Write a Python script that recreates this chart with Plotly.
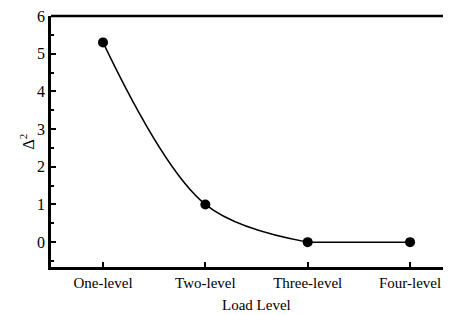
import plotly.graph_objects as go

categories = ["One-level", "Two-level", "Three-level", "Four-level"]
values = [5.3, 1.0, 0.0, 0.0]
y_ticks = [0, 1, 2, 3, 4, 5, 6]

FONT = "Times New Roman, Liberation Serif, serif"
x_idx = list(range(len(categories)))

fig = go.Figure()
# smooth segment through first three points
fig.add_trace(go.Scatter(
    x=x_idx[:3], y=values[:3], mode="lines",
    line=dict(color="black", width=1.5, shape="spline", smoothing=1.0),
    showlegend=False, cliponaxis=False, hoverinfo="skip",
))
# flat tail
fig.add_trace(go.Scatter(
    x=x_idx[2:], y=values[2:], mode="lines",
    line=dict(color="black", width=1.5),
    showlegend=False, cliponaxis=False, hoverinfo="skip",
))
fig.add_trace(go.Scatter(
    x=x_idx, y=values, mode="markers",
    marker=dict(color="black", size=10),
    showlegend=False, cliponaxis=False,
))

# page body adds an 8px offset, so the figure is sized to fill the rest
fig.update_layout(
    width=443, height=307,
    margin=dict(l=43, r=0, t=8, b=48, autoexpand=False),
    paper_bgcolor="white", plot_bgcolor="white",
    font=dict(family=FONT, color="black", size=15),
    xaxis=dict(
        range=[-0.508, 3.40], tickvals=x_idx, ticktext=categories, automargin=False,
        showline=True, linecolor="black", linewidth=2.5, ticklabeloverflow="allow",
        ticks="inside", ticklen=5, tickwidth=1.5, tickcolor="black",
        showgrid=False, zeroline=False, tickfont=dict(size=15, family=FONT),
    ),
    yaxis=dict(
        range=[-0.66, 6], tickvals=y_ticks, automargin=False,
        showline=True, linecolor="black", linewidth=2.5, ticklabeloverflow="allow",
        ticks="inside", ticklen=5, tickwidth=1.5, tickcolor="black",
        minor=dict(dtick=0.5, ticks="inside", ticklen=3, tickwidth=1.5, tickcolor="black"),
        showgrid=False, zeroline=False, tickfont=dict(size=16, family=FONT),
    ),
    shapes=[dict(type="line", xref="paper", yref="paper", x0=0, x1=1, y0=1, y1=1,
                 line=dict(color="black", width=2.5))],
    annotations=[
        dict(text="Load Level", x=1.5, xref="x", y=-0.151, yref="paper",
             yanchor="middle", showarrow=False, font=dict(size=15, family=FONT)),
        dict(text="Δ<sup>2</sup>", x=-0.06, xref="paper", y=0.5, yref="paper",
             xanchor="center", yanchor="middle", textangle=-90, showarrow=False,
             font=dict(size=16, family=FONT)),
    ],
)

fig.write_html("out.html")
